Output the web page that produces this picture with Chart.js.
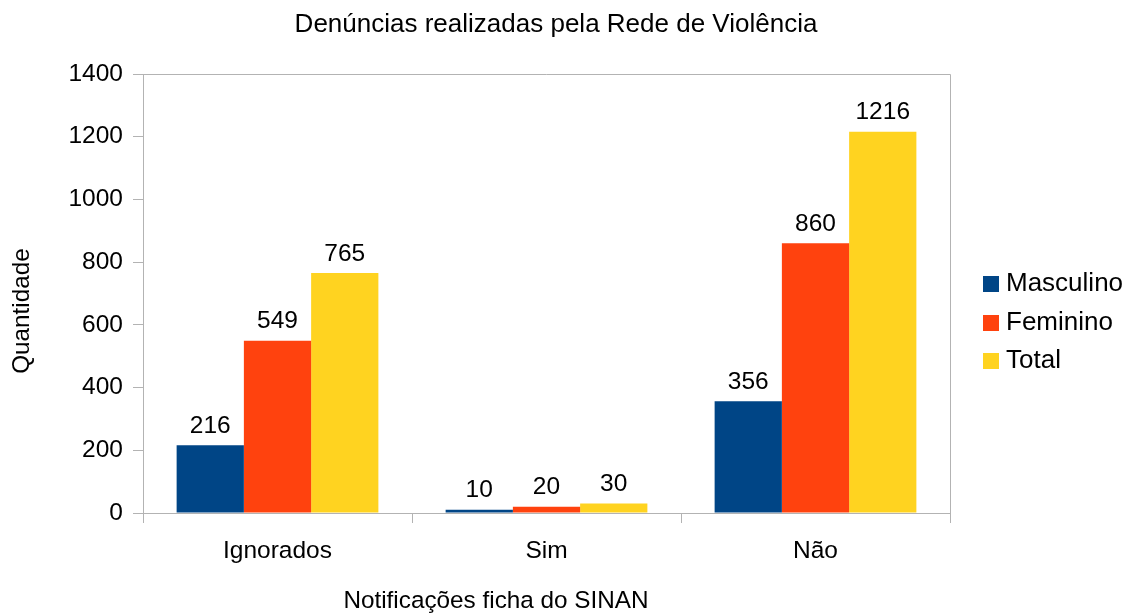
<!DOCTYPE html>
<html>
<head>
<meta charset="utf-8">
<script src="https://cdn.jsdelivr.net/npm/chart.js@4.4.1/dist/chart.umd.min.js"></script>
<style>
  html, body { margin: 0; padding: 0; background: #fff; }
  #wrap { position: relative; width: 1127px; height: 614px; }
  #legend { position: absolute; left: 983px; top: 263px; font-family: "Liberation Sans", Arial, sans-serif; font-size: 26px; color: #000; }
  #legend div { height: 38.5px; line-height: 38px; white-space: nowrap; }
  #legend span.box { display: inline-block; width: 16px; height: 16px; margin-right: 7px; vertical-align: -1px; }
</style>
</head>
<body>
<div id="wrap">
  <canvas id="chart" width="1127" height="614"></canvas>
  <div id="legend"></div>
</div>
<script>
// Chart data
var categories = ["Ignorados", "Sim", "Não"];
var masculino = [216, 10, 356];
var feminino = [549, 20, 860];
var total = [765, 30, 1216];
var yTicks = [0, 200, 400, 600, 800, 1000, 1200, 1400];

var fontName = "'Liberation Sans', Arial, sans-serif";
var gray = "#b3b3b3";

// Draws the value on top of each bar
var valueLabels = {
    id: "valueLabels",
    afterDatasetsDraw: function(chart) {
        var ctx = chart.ctx;
        ctx.save();
        ctx.fillStyle = "#000";
        ctx.font = "24.5px " + fontName;
        ctx.textAlign = "center";
        ctx.textBaseline = "bottom";
        chart.data.datasets.forEach(function(ds, i) {
            chart.getDatasetMeta(i).data.forEach(function(bar, j) {
                ctx.fillText(ds.data[j], bar.x, bar.y - 7);
            });
        });
        ctx.restore();
    }
};

// Plot frame, chart title and axis titles
var frame = {
    id: "frame",
    beforeDatasetsDraw: function(chart) {
        var a = chart.chartArea;
        var ctx = chart.ctx;
        ctx.save();
        ctx.strokeStyle = gray;
        ctx.lineWidth = 1;
        ctx.beginPath();
        ctx.moveTo(a.left, a.top + 0.5);
        ctx.lineTo(a.right + 0.5, a.top + 0.5);
        ctx.lineTo(a.right + 0.5, a.bottom);
        ctx.stroke();
        ctx.restore();
    },
    afterDraw: function(chart) {
        var ctx = chart.ctx;
        ctx.save();
        ctx.fillStyle = "#000";
        ctx.textAlign = "center";
        ctx.textBaseline = "middle";
        ctx.font = "26px " + fontName;
        ctx.fillText("Denúncias realizadas pela Rede de Violência", 556, 25);
        ctx.font = "24.3px " + fontName;
        ctx.fillText("Notificações ficha do SINAN", 496, 601);
        ctx.translate(22, 311);
        ctx.rotate(-Math.PI / 2);
        ctx.fillText("Quantidade", 0, 0);
        ctx.restore();
    }
};

var chart = new Chart(document.getElementById("chart"), {
    type: "bar",
    data: {
        labels: categories,
        datasets: [
            { label: "Masculino", data: masculino, backgroundColor: "#004586" },
            { label: "Feminino", data: feminino, backgroundColor: "#ff420e" },
            { label: "Total", data: total, backgroundColor: "#ffd320" }
        ]
    },
    options: {
        responsive: false,
        animation: false,
        layout: { padding: { left: 0, right: 177, top: 74, bottom: 0 } },
        datasets: { bar: { categoryPercentage: 0.75, barPercentage: 1.0 } },
        plugins: {
            legend: { display: false },
            tooltip: { enabled: false },
            title: { display: false }
        },
        scales: {
            x: {
                grid: { offset: true, drawOnChartArea: false, drawTicks: true, tickLength: 10, color: gray },
                border: { color: gray },
                ticks: { color: "#000", padding: 14, font: { family: fontName, size: 24.5 } },
                afterFit: function(scale) { scale.height = 101; }
            },
            y: {
                min: 0,
                max: 1400,
                afterBuildTicks: function(scale) {
                    scale.ticks = yTicks.map(function(v) { return { value: v }; });
                },
                grid: { drawOnChartArea: false, drawTicks: true, tickLength: 10, color: gray },
                border: { color: gray },
                ticks: {
                    color: "#000",
                    padding: 10,
                    font: { family: fontName, size: 24.5 },
                    callback: function(v) { return String(v); }
                },
                afterFit: function(scale) { scale.width = 143; }
            }
        }
    },
    plugins: [valueLabels, frame]
});

// HTML legend from the datasets
var legend = document.getElementById("legend");
chart.data.datasets.forEach(function(ds) {
    var row = document.createElement("div");
    var box = document.createElement("span");
    box.className = "box";
    box.style.background = ds.backgroundColor;
    row.appendChild(box);
    row.appendChild(document.createTextNode(ds.label));
    legend.appendChild(row);
});
</script>
</body>
</html>
